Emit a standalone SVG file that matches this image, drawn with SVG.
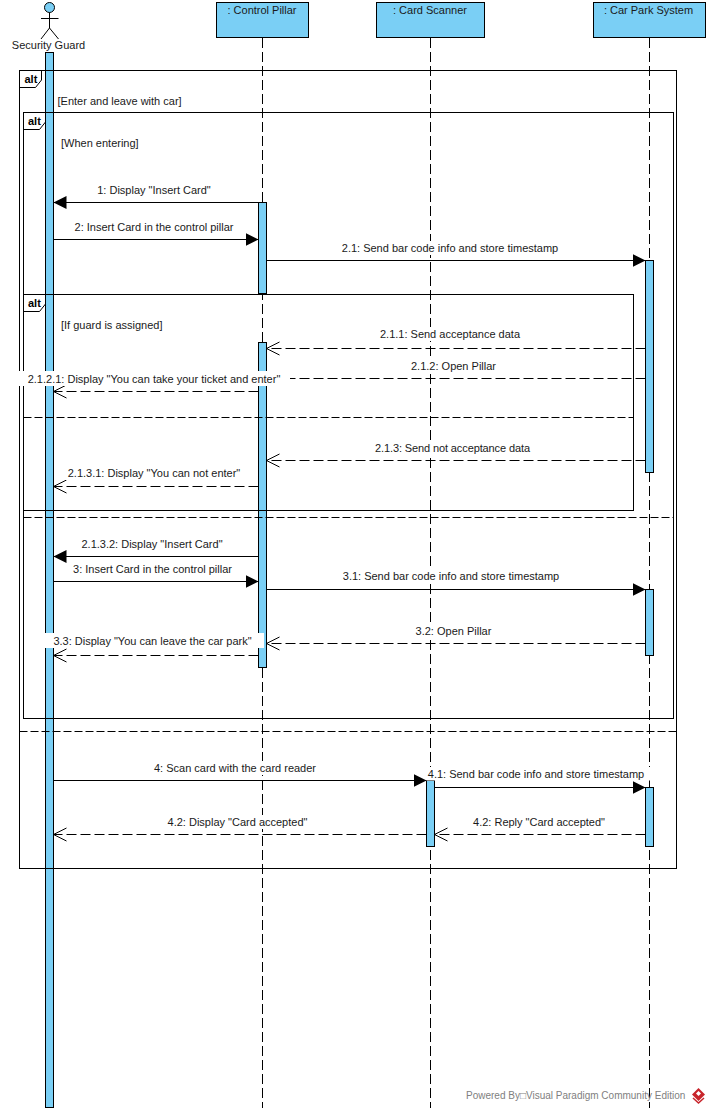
<svg xmlns="http://www.w3.org/2000/svg" width="710" height="1112" viewBox="0 0 710 1112">
<style>
text{font-family:"Liberation Sans",Arial,sans-serif;font-size:11px;fill:#1a1a1a}
.m{text-anchor:middle}
.head{fill:#7acff5;stroke:#000;stroke-width:1}
.act{fill:#7acff5;stroke:#000;stroke-width:1}
.life{stroke:#000;stroke-width:1;stroke-dasharray:10 4;fill:none}
.frame{fill:none;stroke:#000;stroke-width:1}
.sep{stroke:#000;stroke-width:1;stroke-dasharray:8 3;fill:none}
.sync{stroke:#000;stroke-width:1;fill:none;marker-end:url(#filled)}
.ret{stroke:#000;stroke-width:1;stroke-dasharray:10 4;fill:none;marker-end:url(#open)}
.tab{font-weight:bold;font-size:11px;fill:#000}
.wh{fill:#fff}
.foot{font-size:10px;fill:#808080}
</style>
<defs>
<marker id="filled" markerUnits="userSpaceOnUse" markerWidth="14" markerHeight="15" refX="13" refY="7.5" orient="auto"><path d="M0 1L13 7.500L0 14Z" fill="#000"/></marker>
<marker id="open" markerUnits="userSpaceOnUse" markerWidth="14" markerHeight="15" refX="13" refY="7.5" orient="auto"><path d="M0 1L13 7.500L0 14" fill="none" stroke="#000" stroke-width="1"/></marker>
</defs>
<g id="actor-security-guard">
<circle cx="49.5" cy="7.5" r="5" class="head"/>
<path d="M41 18.5H58.5M49.5 12.5V28M49.5 28L41 39M49.5 28L58.5 39" fill="none" stroke="#000"/>
<text x="48.5" y="49" class="m">Security Guard</text>
</g>
<g id="control-pillar">
<path class="life" d="M262.5 38V1108"/>
<rect x="216.5" y="2.5" width="92" height="35" class="head"/>
<text x="262" y="14" class="m">: Control Pillar</text>
</g>
<g id="card-scanner">
<path class="life" d="M430.5 38V1108"/>
<rect x="376.5" y="2.5" width="108" height="35" class="head"/>
<text x="430" y="14" class="m">: Card Scanner</text>
</g>
<g id="car-park-system">
<path class="life" d="M649.5 38V1108"/>
<rect x="593.5" y="2.5" width="112" height="35" class="head"/>
<text x="648.5" y="14" class="m">: Car Park System</text>
</g>
<g id="activations">
<rect x="45.5" y="52.5" width="8" height="1055" class="act"/>
<rect x="258.5" y="202.5" width="8" height="91" class="act"/>
<rect x="258.5" y="342.5" width="8" height="325" class="act"/>
<rect x="426.5" y="780.5" width="8" height="66" class="act"/>
<rect x="645.5" y="260.5" width="8" height="212" class="act"/>
<rect x="645.5" y="589.5" width="8" height="66" class="act"/>
<rect x="645.5" y="787.5" width="8" height="59" class="act"/>
</g>
<g id="frame-outer">
<rect x="19.5" y="70.5" width="657" height="798" class="frame"/>
<path class="frame" d="M19.5 87.5H35.5L41.5 80V70.5"/>
<text x="24.5" y="83" class="tab">alt</text>
<text x="57.5" y="105">[Enter and leave with car]</text>
<path class="sep" d="M19.5 731.5H676.5"/>
</g>
<g id="frame-inner">
<rect x="23.5" y="112.5" width="650" height="606" class="frame"/>
<path class="frame" d="M23.5 129.5H39.5L45.5 122V112.5"/>
<text x="28" y="125" class="tab">alt</text>
<text x="61" y="147">[When entering]</text>
<path class="sep" d="M23.5 517.5H673.5"/>
</g>
<g id="frame-guard">
<rect x="23.5" y="294.5" width="610" height="216" class="frame"/>
<path class="frame" d="M23.5 311.5H39.5L45.5 304V294.5"/>
<text x="28" y="307" class="tab">alt</text>
<text x="61" y="329">[If guard is assigned]</text>
<path class="sep" d="M23.5 417.5H633.5"/>
</g>
<g id="connectors">
<path class="sync" d="M258.5 202.5H53.500"/>
<path class="sync" d="M53.5 239.5H258.5"/>
<path class="sync" d="M266.5 260.5H645.5"/>
<path class="ret" d="M645.5 348.5H266.5"/>
<path class="ret" d="M645.5 378.5H266.5"/>
<path class="ret" d="M258.5 391.5H53.5"/>
<path class="ret" d="M645.5 460.5H266.5"/>
<path class="ret" d="M258.5 486.5H53.5"/>
<path class="sync" d="M258.5 556.5H53.5"/>
<path class="sync" d="M53.5 581.5H258.5"/>
<path class="sync" d="M266.5 589.5H645.5"/>
<path class="ret" d="M645.5 643.5H266.5"/>
<path class="ret" d="M258.5 655.5H53.5"/>
<path class="sync" d="M53.5 780.5H426.5"/>
<path class="sync" d="M434.5 787.5H645.5"/>
<path class="ret" d="M426.5 834.5H53.5"/>
<path class="ret" d="M645.5 834.5H434.5"/>
</g>
<g id="message-labels">
<rect x="94" y="183" width="120" height="14" class="wh"/>
<text x="154" y="194" class="m">1: Display "Insert Card"</text>
<rect x="71" y="220" width="166" height="14" class="wh"/>
<text x="154" y="231" class="m">2: Insert Card in the control pillar</text>
<rect x="338" y="241" width="224" height="14" class="wh"/>
<text x="450" y="252" class="m">2.1: Send bar code info and store timestamp</text>
<rect x="377" y="327" width="146" height="14" class="wh"/>
<text x="450" y="338" class="m">2.1.1: Send acceptance data</text>
<rect x="408" y="359" width="91" height="14" class="wh"/>
<text x="453.500" y="370" class="m">2.1.2: Open Pillar</text>
<rect x="18" y="371" width="272" height="15" class="wh"/>
<text x="154" y="383" class="m">2.1.2.1: Display "You can take your ticket and enter"</text>
<rect x="372" y="441" width="161" height="14" class="wh"/>
<text x="452.500" y="452" textLength="155" class="m">2.1.3: Send not acceptance data</text>
<rect x="64" y="466" width="180" height="14" class="wh"/>
<text x="154" y="477" class="m">2.1.3.1: Display "You can not enter"</text>
<rect x="79" y="537" width="146" height="14" class="wh"/>
<text x="152" y="548" class="m">2.1.3.2: Display "Insert Card"</text>
<rect x="70" y="562" width="165" height="14" class="wh"/>
<text x="152.500" y="573" class="m">3: Insert Card in the control pillar</text>
<rect x="340" y="569" width="222" height="14" class="wh"/>
<text x="451" y="580" class="m">3.1: Send bar code info and store timestamp</text>
<rect x="413" y="624" width="81" height="14" class="wh"/>
<text x="453.500" y="635" class="m">3.2: Open Pillar</text>
<rect x="45" y="633" width="219" height="15" class="wh"/>
<text x="152.500" y="645" class="m">3.3: Display "You can leave the car park"</text>
<rect x="151" y="761" width="168" height="14" class="wh"/>
<text x="235" y="772" class="m">4: Scan card with the card reader</text>
<rect x="426.500" y="767" width="224.500" height="13.500" class="wh"/>
<text x="536" y="778" class="m">4.1: Send bar code info and store timestamp</text>
<rect x="165" y="815" width="145" height="14" class="wh"/>
<text x="237.500" y="826" class="m">4.2: Display "Card accepted"</text>
<rect x="470" y="815" width="138" height="14" class="wh"/>
<text x="539" y="826" class="m">4.2: Reply "Card accepted"</text>
</g>
<g id="footer">
<text x="466" y="1099" class="foot">Powered By□Visual Paradigm Community Edition</text>
<path d="M698.500 1088L705 1094.500L698.500 1101L692 1094.500Z" fill="#c8242b"/>
<path d="M693 1098L698.500 1103L704 1098" fill="none" stroke="#c8242b" stroke-width="1.500"/>
<path d="M696 1093.500L698.500 1091L701 1093.500L698.500 1096Z" fill="#fff"/>
</g>
</svg>
